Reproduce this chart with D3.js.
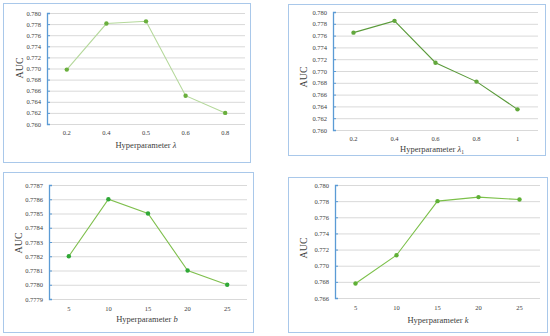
<!DOCTYPE html>
<html>
<head>
<meta charset="utf-8">
<script src="https://cdnjs.cloudflare.com/ajax/libs/d3/7.8.5/d3.min.js"></script>
<style>
  body { margin: 0; background: #fff; }
  svg { display: block; }
  text { font-family: "Liberation Serif", "DejaVu Serif", serif; fill: #404040; }
</style>
</head>
<body>
<svg id="chart" width="550" height="336"></svg>
<script>
(function() {

  // panel 1: lambda
  var lambdaCats = ['0.2', '0.4', '0.5', '0.6', '0.8'];
  var lambdaAuc = [0.7698, 0.7781, 0.7785, 0.7651, 0.7620];
  var lambdaTicks = [0.760, 0.762, 0.764, 0.766, 0.768, 0.770, 0.772, 0.774, 0.776, 0.778, 0.780];

  // panel 2: lambda_1
  var lambda1Cats = ['0.2', '0.4', '0.6', '0.8', '1'];
  var lambda1Auc = [0.7765, 0.7785, 0.7714, 0.7682, 0.7635];
  var lambda1Ticks = [0.760, 0.762, 0.764, 0.766, 0.768, 0.770, 0.772, 0.774, 0.776, 0.778, 0.780];

  // panel 3: b
  var bCats = ['5', '10', '15', '20', '25'];
  var bAuc = [0.7782, 0.7786, 0.7785, 0.7781, 0.7780];
  var bTicks = [0.7779, 0.7780, 0.7781, 0.7782, 0.7783, 0.7784, 0.7785, 0.7786, 0.7787];

  // panel 4: k
  var kCats = ['5', '10', '15', '20', '25'];
  var kAuc = [0.7678, 0.7713, 0.7780, 0.7785, 0.7782];
  var kTicks = [0.766, 0.768, 0.770, 0.772, 0.774, 0.776, 0.778, 0.780];

  var svg = d3.select('#chart');

  function drawPanel(p) {
    var g = svg.append('g');

    g.append('rect')
        .attr('x', p.box[0] + 0.5)
        .attr('y', p.box[1] + 0.5)
        .attr('width', p.box[2] - p.box[0])
        .attr('height', p.box[3] - p.box[1])
        .attr('fill', 'none')
        .attr('stroke', '#a9c8ea')
        .attr('stroke-width', 1);

    var x = d3.scaleBand()
        .domain(p.cats)
        .range([p.left, p.right]);

    var y = d3.scaleLinear()
        .domain([p.ticks[0], p.ticks[p.ticks.length - 1]])
        .range([p.bottom, p.top]);

    // gridlines
    g.append('g')
        .attr('transform', 'translate(' + p.left + ',0)')
        .call(d3.axisRight(y)
          .tickValues(p.ticks)
          .tickSize(p.right - p.left)
          .tickFormat(''))
        .call(function(a) {
          a.select('.domain').remove();
          a.selectAll('line').attr('stroke', '#d9d9d9').attr('stroke-width', 1);
        });

    // y axis
    g.append('g')
        .attr('transform', 'translate(' + p.left + ',0)')
        .call(d3.axisRight(y)
          .tickValues(p.ticks)
          .tickSize(3)
          .tickFormat(d3.format(p.fmt)))
        .call(function(a) {
          a.select('.domain').attr('stroke', '#5b9bd5').attr('stroke-width', 1.3);
          a.selectAll('line').attr('stroke', '#5b9bd5');
          a.selectAll('text')
              .attr('x', -6)
              .attr('text-anchor', 'end')
              .style('font-size', '6.5px')
              .style('font-family', '"Liberation Serif", serif')
              .attr('fill', '#595959');
        });

    // x labels
    g.append('g')
        .attr('transform', 'translate(0,' + p.bottom + ')')
        .call(d3.axisBottom(x).tickSize(0).tickPadding(p.xPad))
        .call(function(a) {
          a.select('.domain').remove();
          a.selectAll('text')
              .style('font-size', '6.5px')
              .style('font-family', '"Liberation Serif", serif')
              .attr('fill', '#595959');
        });

    var line = d3.line()
        .x(function(d, i) { return x(p.cats[i]) + x.bandwidth() / 2; })
        .y(function(d) { return y(d); });

    g.append('path')
        .datum(p.values)
        .attr('d', line)
        .attr('fill', 'none')
        .attr('stroke', p.lineColor)
        .attr('stroke-width', 1.1);

    g.selectAll('.pt')
        .data(p.values)
        .enter().append('circle')
        .attr('class', 'pt')
        .attr('cx', function(d, i) { return x(p.cats[i]) + x.bandwidth() / 2; })
        .attr('cy', function(d) { return y(d); })
        .attr('r', 2.2)
        .attr('fill', p.dotColor);

    // axis titles
    g.append('text')
        .attr('transform', 'translate(' + p.yTitle[0] + ',' + p.yTitle[1] + ') rotate(-90)')
        .attr('text-anchor', 'middle')
        .attr('dy', '0.35em')
        .style('font-size', '10px')
        .text('AUC');

    var t = g.append('text')
        .attr('x', p.xTitle[0])
        .attr('y', p.xTitle[1])
        .attr('text-anchor', 'middle')
        .style('font-size', '8.5px');
    t.append('tspan').text('Hyperparameter ');
    t.append('tspan').style('font-style', 'italic').text(p.sym);
    if (p.sub) {
      t.append('tspan').attr('dy', 2).style('font-size', '5.5px').text(p.sub);
    }
  }

  drawPanel({
    box: [3, 3, 250, 162], left: 47, right: 245, top: 13, bottom: 124,
    cats: lambdaCats, values: lambdaAuc, ticks: lambdaTicks, fmt: '.3f', xPad: 6,
    lineColor: '#b4d89a', dotColor: '#6aaf3d',
    yTitle: [19, 68], xTitle: [146, 148], sym: 'λ'
  });

  drawPanel({
    box: [288, 4, 545, 155], left: 333, right: 538, top: 12, bottom: 130,
    cats: lambda1Cats, values: lambda1Auc, ticks: lambda1Ticks, fmt: '.3f', xPad: 6,
    lineColor: '#5a9a3a', dotColor: '#62a83c',
    yTitle: [303, 77], xTitle: [432, 152], sym: 'λ', sub: '1'
  });

  drawPanel({
    box: [3, 172, 253, 332], left: 49, right: 247, top: 185, bottom: 299,
    cats: bCats, values: bAuc, ticks: bTicks, fmt: '.4f', xPad: 7,
    lineColor: '#7fbf4d', dotColor: '#2fa836',
    yTitle: [18, 243], xTitle: [147, 322], sym: 'b'
  });

  drawPanel({
    box: [288, 177, 547, 332], left: 335, right: 540, top: 185, bottom: 298,
    cats: kCats, values: kAuc, ticks: kTicks, fmt: '.3f', xPad: 7,
    lineColor: '#7cc04a', dotColor: '#5fb036',
    yTitle: [303, 248], xTitle: [438, 323], sym: 'k'
  });

})()
</script>
</body>
</html>
